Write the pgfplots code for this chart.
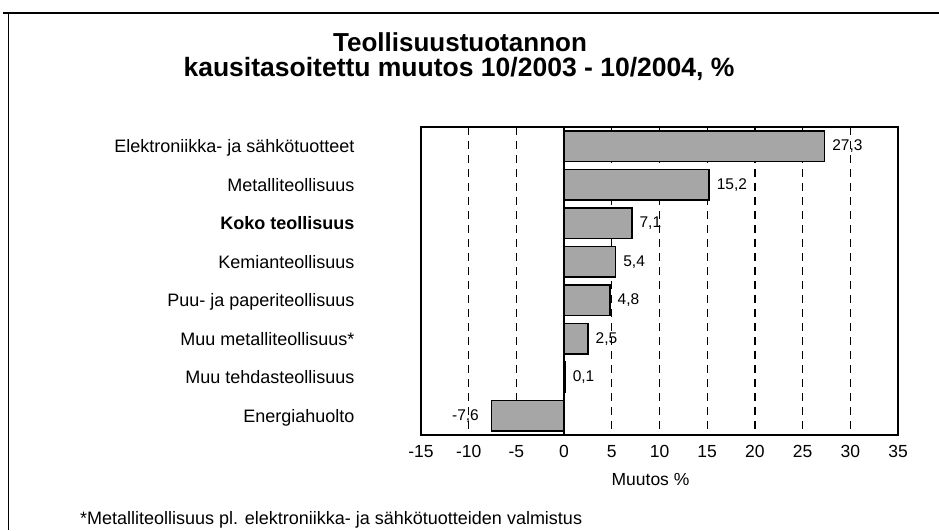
\documentclass[border=0pt]{standalone}
\usepackage{pgfplots}
\pgfplotsset{compat=1.18}
\usepackage{fontspec}
\setmainfont{Liberation Sans}
\begin{document}
\begin{tikzpicture}[x=1pt,y=1pt]
\useasboundingbox (0,0) rectangle (939,-530);
\draw[line width=1.5pt] (3,-13) -- (939,-13);
\draw[line width=1pt] (8,-13) -- (8,-530);
\node[font=\fontsize{26}{30}\selectfont\bfseries] at (460,-42) {Teollisuustuotannon};
\node[font=\fontsize{26.5}{30}\selectfont\bfseries] at (459,-69) {kausitasoitettu muutos 10/2003 - 10/2004, \%};
\node[font=\fontsize{18}{21}\selectfont, anchor=west, inner sep=0pt] at (80,-520) {*Metalliteollisuus pl. elektroniikka- ja sähkötuotteiden valmistus};
\begin{axis}[
  at={(421pt,-435pt)}, anchor=south west,
  width=477pt, height=308pt, scale only axis,
  xmin=-15, xmax=35, ymin=-0.5, ymax=7.5, y dir=reverse,
  xbar, bar width=0.78, bar shift=0pt,
  xtick={-15,-10,...,35},
  ytick={0,...,7},
  yticklabels={Elektroniikka- ja sähkötuotteet, Metalliteollisuus, \textbf{Koko teollisuus}, Kemianteollisuus, Puu- ja paperiteollisuus, Muu metalliteollisuus*, Muu tehdasteollisuus, Energiahuolto},
  major tick length=0pt,
  axis line style={line width=1.2pt},
  xmajorgrids,
  grid style={black, line width=1.2pt, dash pattern=on 8pt off 6pt},
  yticklabel style={font=\fontsize{18}{21}\selectfont, text height=13pt, text depth=4pt, anchor=east, xshift=-63pt, yshift=-2pt},
  xticklabel style={font=\fontsize{17.5}{21}\selectfont, text height=12.5pt, text depth=0pt, anchor=north, yshift=-6pt},
  /pgf/number format/assume math mode=true,
  xlabel={Muutos \%},
  xlabel style={at={(axis description cs:0.5,0)}, anchor=center, yshift=-45pt, xshift=-9pt, font=\fontsize{17.5}{21}\selectfont},
  nodes near coords={\pgfmathprintnumber[use comma,fixed,fixed zerofill,precision=1,assume math mode=true]{\pgfplotspointmeta}},
  every node near coord/.append style={font=\fontsize{15.5}{18}\selectfont, black, inner sep=0pt},
]
\addplot[fill=black!35, draw=black, line width=1.5pt,
  every node near coord/.append style={anchor=west, xshift=7pt}]
  coordinates {(27.3,0) (15.2,1) (7.1,2) (5.4,3) (4.8,4) (2.5,5) (0.1,6)};
\addplot[fill=black!35, draw=black, line width=1.5pt,
  every node near coord/.append style={anchor=east, xshift=-12pt}]
  coordinates {(-7.6,7)};
\draw[line width=1.5pt] (axis cs:0,-0.5) -- (axis cs:0,7.5);
\end{axis}
\end{tikzpicture}
\end{document}
